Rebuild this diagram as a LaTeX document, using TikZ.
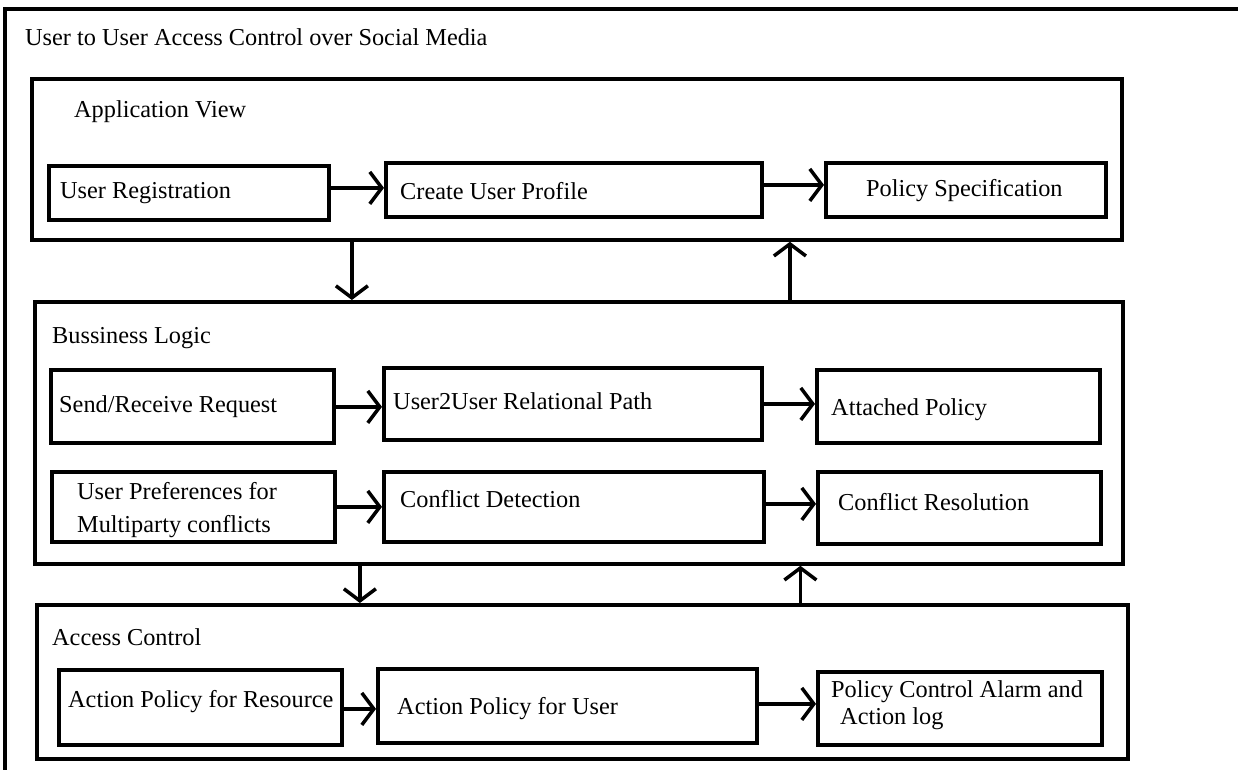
\documentclass[tikz,border=0pt]{standalone}
\usepackage{fontspec}
\setmainfont{Liberation Serif}
\usetikzlibrary{arrows.meta}
\tikzset{
  box/.style={draw, line width=3.8pt, inner sep=0pt, anchor=north west},
  lbl/.style={anchor=base west, inner sep=0pt, font=\fontsize{24.3}{29}\selectfont},
  arr/.style={line width=3.5pt, -{Straight Barb[length=12pt,width=32pt,line width=3.5pt]}},
}
\begin{document}
\begin{tikzpicture}[x=1pt,y=-1pt]
\useasboundingbox (0,0) rectangle (1238,770);
\clip (0,0) rectangle (1238,770);
% outer frame (cropped on right and bottom)
\draw[line width=3.2pt] (5,790) -- (5,9) -- (1260,9);
\node[lbl] (title) at (25,46) {User to User Access Control over Social Media};

% Application View
\node[box, minimum width=1090pt, minimum height=161pt] (av) at (30,77) {};
\node[lbl] (avt) at (74,118) {Application View};
\node[box, minimum width=280pt, minimum height=54pt] (ur) at (47,164) {};
\node[lbl] (urt) at (60,198) {User Registration};
\node[box, minimum width=376pt, minimum height=54pt] (cup) at (384,161) {};
\node[lbl] (cupt) at (400,200) {Create User Profile};
\node[box, minimum width=280pt, minimum height=54pt] (ps) at (824,161) {};
\node[lbl] (pst) at (866,196) {Policy Specification};
\draw[arr] ([yshift=5pt]ur.east) -- ([yshift=5pt]ur.east -| cup.west);
\draw[arr] ([yshift=5pt]cup.east) -- ([yshift=5pt]cup.east -| ps.west);

% Business Logic
\node[box, minimum width=1088pt, minimum height=262pt] (bl) at (33,300) {};
\node[lbl] (blt) at (52,343) {Bussiness Logic};
\node[box, minimum width=283pt, minimum height=73pt] (srr) at (49,368) {};
\node[lbl] (srrt) at (59,412) {Send/Receive Request};
\node[box, minimum width=378pt, minimum height=72pt] (uu) at (382,366) {};
\node[lbl] (uut) at (393,409) {User2User Relational Path};
\node[box, minimum width=283pt, minimum height=73pt] (ap) at (815,368) {};
\node[lbl] (apt) at (831,415) {Attached Policy};
\node[box, minimum width=283pt, minimum height=70pt] (up) at (50,470) {};
\node[lbl] (upt1) at (77,499) {User Preferences for};
\node[lbl] (upt2) at (77,532) {Multiparty conflicts};
\node[box, minimum width=380pt, minimum height=70pt] (cd) at (382,470) {};
\node[lbl] (cdt) at (400,507) {Conflict Detection};
\node[box, minimum width=283pt, minimum height=72pt] (cr) at (816,470) {};
\node[lbl] (crt) at (838,510) {Conflict Resolution};
\draw[arr] ([yshift=-0.5pt]srr.east) -- ([yshift=-0.5pt]srr.east -| uu.west);
\draw[arr] ([yshift=0pt]uu.east) -- ([yshift=0pt]uu.east -| ap.west);
\draw[arr] ([yshift=0pt]up.east) -- ([yshift=0pt]up.east -| cd.west);
\draw[arr] ([yshift=3pt]cd.east) -- ([yshift=3pt]cd.east -| cr.west);

% Access Control
\node[box, minimum width=1091pt, minimum height=154pt] (ac) at (35,603) {};
\node[lbl] (act) at (52,645) {Access Control};
\node[box, minimum width=283pt, minimum height=75pt] (apr) at (57,668) {};
\node[lbl] (aprt) at (68,707) {Action Policy for Resource};
\node[box, minimum width=379pt, minimum height=74pt] (apu) at (376,667) {};
\node[lbl] (aput) at (397,714) {Action Policy for User};
\node[box, minimum width=284pt, minimum height=73pt] (pca) at (816,670) {};
\begin{scope}
\clip ([xshift=2pt,yshift=-2pt]pca.north west) rectangle ([xshift=-2pt,yshift=16pt]pca.south east);
\node[lbl] (pcat1) at (831,697) {Policy Control Alarm and};
\node[lbl] (pcat2) at (840,724) {Action log};
\end{scope}
\draw[arr] ([yshift=-1.5pt]apr.east) -- ([yshift=-1.5pt]apr.east -| apu.west);
\draw[arr] ([yshift=2pt]apu.east) -- ([yshift=2pt]apu.east -| pca.west);

% vertical connectors
\draw[arr] ([xshift=-225pt]av.south) -- ([xshift=-225pt]av.south |- bl.north);
\draw[arr] ([xshift=211pt]bl.north) -- ([xshift=211pt]bl.north |- av.south);
\draw[arr] ([xshift=-219pt]bl.south) -- ([xshift=-219pt]bl.south |- ac.north);
\draw[arr] ([xshift=218pt]ac.north) -- ([xshift=218pt]ac.north |- bl.south);
\end{tikzpicture}
\end{document}
